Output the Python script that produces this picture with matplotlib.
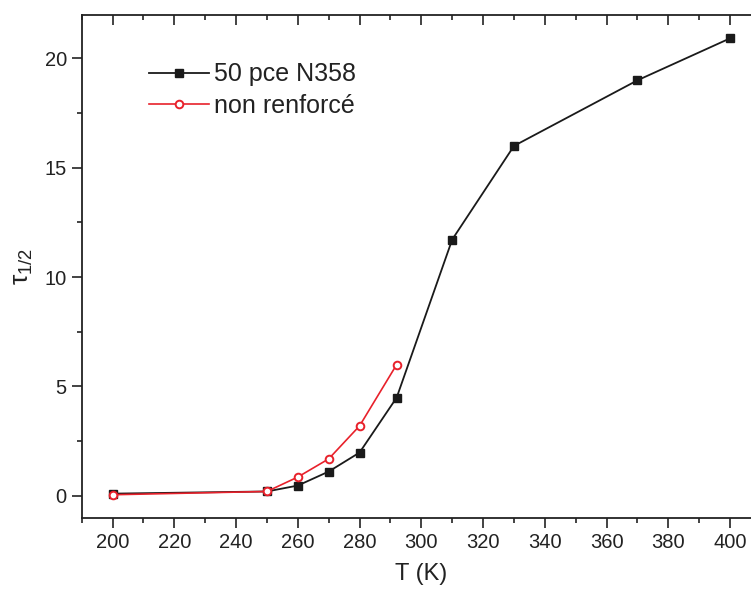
import matplotlib
matplotlib.use('Agg')
import matplotlib.pyplot as plt
import matplotlib.lines as mlines
from matplotlib.ticker import MultipleLocator

plt.rcParams['font.family'] = ['Liberation Sans', 'DejaVu Sans']
plt.rcParams['mathtext.fontset'] = 'custom'
plt.rcParams['mathtext.rm'] = 'Liberation Sans'
plt.rcParams['mathtext.it'] = 'Liberation Sans'

# 50 pce N358
t_n358 = [200, 250, 260, 270, 280, 292, 310, 330, 370, 400]
tau_n358 = [0.1, 0.2, 0.47, 1.11, 1.98, 4.49, 11.72, 16.0, 19.0, 20.92]

# non renforcé
t_nr = [200, 250, 260, 270, 280, 292]
tau_nr = [0.05, 0.2, 0.86, 1.69, 3.2, 6.0]

fig = plt.figure(figsize=(7.51, 5.92), dpi=100)
# axes runs off the right edge, like the cropped original
ax = fig.add_axes([0.1088, 0.1255, 0.9045, 0.8497])

ax.plot(t_n358, tau_n358, color='#1a1a1a', linewidth=1.3, marker='s',
        markersize=5.8, markerfacecolor='#1a1a1a', markeredgecolor='#1a1a1a',
        label='50 pce N358')
ax.plot(t_nr, tau_nr, color='#e8212b', linewidth=1.2, marker='o',
        markersize=5.5, markerfacecolor='white', markeredgecolor='#e8212b',
        markeredgewidth=1.4, label='non renforcé')

ax.set_xlim(190, 410)
ax.set_ylim(-1, 22)
ax.xaxis.set_major_locator(MultipleLocator(20))
ax.xaxis.set_minor_locator(MultipleLocator(10))
ax.yaxis.set_major_locator(MultipleLocator(5))
ax.yaxis.set_minor_locator(MultipleLocator(2.5))

ax.tick_params(which='both', direction='out', labelsize=14.5, color='#222222',
               labelcolor='#222222', width=1.2, top=True, right=True)
ax.tick_params(which='major', length=7.2)
ax.tick_params(which='minor', length=3.8)
# top and right ticks point inward
for t in ax.xaxis.get_major_ticks() + ax.xaxis.get_minor_ticks():
    t.tick2line.set_marker(mlines.TICKDOWN)
for t in ax.yaxis.get_major_ticks() + ax.yaxis.get_minor_ticks():
    t.tick2line.set_marker(mlines.TICKLEFT)

for s in ax.spines.values():
    s.set_linewidth(1.3)
    s.set_color('#222222')

ax.set_xlabel('T (K)', fontsize=17, color='#222222', labelpad=8)
ax.set_ylabel(r'$\tau_{1/2}$', fontsize=19, color='#222222', labelpad=7)

leg = ax.legend(loc='upper left', bbox_to_anchor=(0.085, 0.925), frameon=False,
                fontsize=18, handlelength=2.4, handletextpad=0.2,
                labelspacing=0.3, borderaxespad=0)
for txt in leg.get_texts():
    txt.set_color('#222222')

fig.savefig('out.png', dpi=100, facecolor='white')
